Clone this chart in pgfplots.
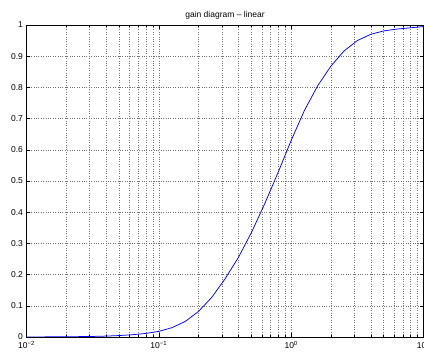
\documentclass[border=0pt]{standalone}
\usepackage{pgfplots}
\pgfplotsset{compat=1.18}
\usepackage{fontspec}
\setmainfont{Liberation Sans}
\begin{document}
\fontsize{8.5pt}{10pt}\selectfont
\begin{tikzpicture}
\begin{axis}[
  scale only axis,
  width=397pt, height=312pt,
  xmode=log,
  xmin=0.01, xmax=10, ymin=0, ymax=1,
  xtick={0.01,0.1,1,10},
  xticklabels={10\textsuperscript{−2},10\textsuperscript{−1},10\textsuperscript{0},10\textsuperscript{1}},
  ytick={0,0.1,0.2,0.3,0.4,0.5,0.6,0.7,0.8,0.9,1},
  yticklabels={0,0.1,0.2,0.3,0.4,0.5,0.6,0.7,0.8,0.9,1},
  tick align=inside,
  tick pos=both,
  major tick length=4pt,
  minor tick length=2pt,
  xmajorgrids=true, xminorgrids=true, ymajorgrids=true,
  grid style={dotted, black!55, line width=0.4pt},
  minor grid style={dotted, black!55, line width=0.4pt},
  axis line style={line width=0.8pt},
  every tick/.style={black, line width=0.5pt},
  ticklabel style={font=\fontsize{8.5pt}{10pt}\selectfont},
  xticklabel style={yshift=-1.5pt},
  yticklabel style={xshift=-0.5pt},
  title={gain diagram – linear},
  title style={font=\fontsize{8.5pt}{10pt}\selectfont, yshift=-3pt},
]
\addplot[blue, line width=0.75pt] coordinates {
(0.01000,0.0002)
(0.01259,0.0003)
(0.01585,0.0005)
(0.01995,0.0007)
(0.02512,0.0012)
(0.03162,0.0018)
(0.03981,0.0029)
(0.05012,0.0046)
(0.06310,0.0072)
(0.07943,0.0114)
(0.10000,0.018)
(0.12589,0.030)
(0.15849,0.050)
(0.19953,0.082)
(0.25119,0.127)
(0.31623,0.186)
(0.39811,0.254)
(0.50119,0.335)
(0.63096,0.427)
(0.79433,0.526)
(1.00000,0.630)
(1.25893,0.726)
(1.58489,0.805)
(1.99526,0.868)
(2.51189,0.917)
(3.16228,0.950)
(3.98107,0.970)
(5.01187,0.981)
(6.30957,0.987)
(7.94328,0.991)
(10.0000,0.995)
};
\coordinate (SW) at (rel axis cs:0,0);
\coordinate (NE) at (rel axis cs:1,1);
\end{axis}
\pgfresetboundingbox
\path[use as bounding box] ([xshift=-26.5pt,yshift=-15pt]SW) rectangle ([xshift=0.5pt,yshift=25pt]NE);
\end{tikzpicture}
\end{document}
